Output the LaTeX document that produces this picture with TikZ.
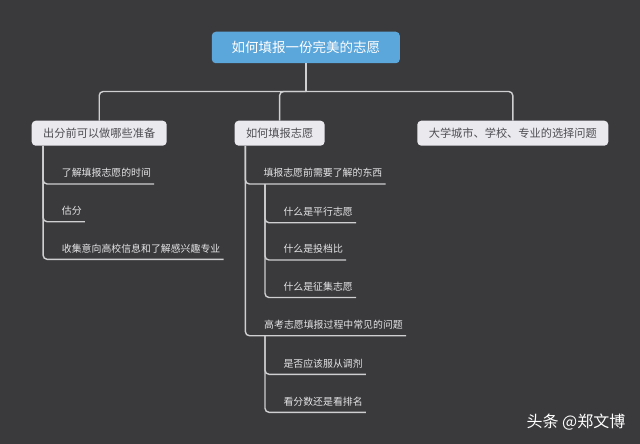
\documentclass[tikz,border=0pt]{standalone}
\usepackage{fontspec}
\setmainfont{Noto Sans CJK SC}
\begin{document}
\begin{tikzpicture}[x=1pt,y=-1pt,
  conn/.style={draw=linec,line width=1.4pt,rounded corners=4pt},
  rootbox/.style={fill=rootblue,rounded corners=4pt,text=white,font=\fontsize{13.5}{16}\selectfont,
    minimum width=188pt,minimum height=31.5pt,inner sep=0pt},
  mainbox/.style={fill=boxgray,rounded corners=4pt,text=boxtext,font=\fontsize{11.2}{13}\selectfont,
    minimum height=25pt,inner sep=0pt},
  leaf/.style={anchor=south west,inner xsep=3pt,inner ysep=5pt,text height=8pt,text depth=2pt,
    text=leaftext,font=\fontsize{9.9}{12}\selectfont}]
\definecolor{bg}{HTML}{3A3A3D}
\definecolor{linec}{HTML}{CFCFD2}
\definecolor{rootblue}{HTML}{5BA6DB}
\definecolor{boxgray}{HTML}{E9E9EE}
\definecolor{boxtext}{HTML}{4E4E52}
\definecolor{leaftext}{HTML}{E4E4E6}
\fill[bg] (0,0) rectangle (640,444);
\useasboundingbox (0,0) rectangle (640,444);

\node[rootbox] (root) at (305.8,47.5) {如何填报一份完美的志愿};
\node[mainbox,minimum width=135pt] (b1) at (99.2,133.2) {出分前可以做哪些准备};
\node[mainbox,minimum width=90pt] (b2) at (279.6,133.2) {如何填报志愿};
\node[mainbox,minimum width=191pt] (b3) at (512.8,133.2) {大学城市、学校、专业的选择问题};

\coordinate (bar) at (305.8,91.5);
\draw[conn] (root.south) -- (bar);
\draw[conn] (bar) -| (b1.north);
\draw[conn] (bar) -| (b2.north);
\draw[conn] (bar) -| (b3.north);

% left branch
\node[leaf] (c11) at (58.7,184) {了解填报志愿的时间};
\node[leaf] (c12) at (58.7,221.7) {估分};
\node[leaf] (c13) at (58.7,259.3) {收集意向高校信息和了解感兴趣专业};
\draw[conn] ([xshift=11.6pt]b1.south west) |- (c11.south east);
\draw[conn] ([xshift=11.6pt]b1.south west) |- (c12.south east);
\draw[conn] ([xshift=11.6pt]b1.south west) |- (c13.south east);

% middle branch
\node[leaf] (c21) at (260.3,184) {填报志愿前需要了解的东西};
\node[leaf] (c22) at (261,335.7) {高考志愿填报过程中常见的问题};
\draw[conn] ([xshift=11pt]b2.south west) |- (c21.south east);
\draw[conn] ([xshift=11pt]b2.south west) |- (c22.south east);

\node[leaf] (c211) at (280.3,222.7) {什么是平行志愿};
\node[leaf] (c212) at (280.3,260) {什么是投档比};
\node[leaf] (c213) at (280.3,297.5) {什么是征集志愿};
\draw[conn] ([xshift=4.7pt]c21.south west) |- (c211.south east);
\draw[conn] ([xshift=4.7pt]c21.south west) |- (c212.south east);
\draw[conn] ([xshift=4.7pt]c21.south west) |- (c213.south east);

\node[leaf] (c221) at (280.3,374.3) {是否应该服从调剂};
\node[leaf] (c222) at (280.3,412.3) {看分数还是看排名};
\draw[conn] ([xshift=4pt]c22.south west) |- (c221.south east);
\draw[conn] ([xshift=4pt]c22.south west) |- (c222.south east);

\node[text=white,font=\fontsize{16}{18}\selectfont,inner sep=0pt] (wm) at (576,422.3) {头条 @郑文博};
\end{tikzpicture}
\end{document}
